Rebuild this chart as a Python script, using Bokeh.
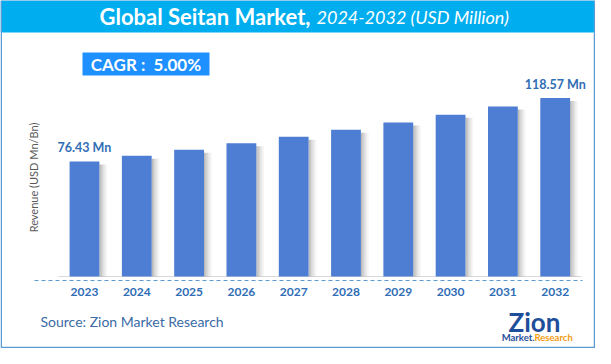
import math
from bokeh.plotting import figure
from bokeh.models import Range1d, ColumnDataSource
from bokeh.core.properties import value
from bokeh.embed import file_html
from bokeh.resources import INLINE

# ---- data ----
years = ["2023", "2024", "2025", "2026", "2027", "2028", "2029", "2030", "2031", "2032"]
revenue = [76.43, 80.25, 84.26, 88.48, 92.90, 97.55, 102.42, 107.55, 112.92, 118.57]
first_label = "76.43 Mn"
last_label = "118.57 Mn"
title_main = "Global Seitan Market,"
title_sub = "2024-2032 (USD Million)"
cagr_text = "CAGR :\u00a0 5.00%"
y_label = "Revenue (USD Mn/Bn)"
source_text = "Source: Zion Market Research"

# ---- layout constants (pixels) ----
W, H = 595, 348
PXX = 52.3            # px per category
X0 = 84.0             # canvas x of first category centre
PYY = 1.5047          # px per unit
BASE = 276.0          # canvas y (from top) of zero line

XS = -X0 / PXX
XE = (W - X0) / PXX
YS = -(H - BASE) / PYY
YE = BASE / PYY

def X(cx):
    return XS + cx / PXX

def Y(cy):
    return (BASE - cy) / PYY

FONT = value("Lato")
BAR = "#4D7ED3"
LBL = "#2F6DB5"

p = figure(width=W, height=H, x_range=Range1d(XS, XE), y_range=Range1d(YS, YE),
           output_backend="svg", toolbar_location=None, min_border=0)
p.axis.visible = False
p.grid.visible = False
p.outline_line_color = None
p.background_fill_color = "white"
p.border_fill_color = "white"

# title bar
p.quad(left=[X(0)], right=[X(594)], top=[Y(0)], bottom=[Y(32)],
       fill_color="#00AEEF", line_color=None)
p.text(x=[X(310)], y=[Y(16)], text=[title_main], text_font=FONT,
       text_font_size="22px", text_font_style="bold", text_color="white",
       text_align="right", text_baseline="middle")
p.text(x=[X(316)], y=[Y(16.5)], text=[title_sub], text_font=FONT,
       text_font_size="18px", text_font_style="italic", text_color="white",
       text_align="left", text_baseline="middle")

# outer frame
p.line(x=[X(0.75), X(0.75), X(594), X(594)], y=[Y(32), Y(347), Y(347), Y(32)],
       line_color="#5B9BD5", line_width=1.5)
p.line(x=[X(0.75), X(0.75)], y=[Y(0), Y(32)], line_color="#5B9BD5", line_width=1.5)
p.line(x=[X(0.75), X(594)], y=[Y(-0.2), Y(-0.2)], line_color="#5B9BD5", line_width=1)
p.line(x=[X(594), X(594)], y=[Y(0), Y(32)], line_color="#5B9BD5", line_width=1.5)

# CAGR box
p.quad(left=[X(82)], right=[X(209)], top=[Y(52)], bottom=[Y(75)],
       fill_color="#1E90FF", line_color=None)
p.text(x=[X(145.5)], y=[Y(63.5)], text=[cagr_text], text_font=FONT,
       text_font_size="17px", text_font_style="bold", text_color="white",
       text_align="center", text_baseline="middle")

# axis lines
p.line(x=[X(58), X(581)], y=[0, 0], line_color="#D9D9D9", line_width=1)
p.line(x=[X(34), X(582)], y=[Y(280), Y(280)], line_color="#5B9BD5",
       line_width=1, line_dash="4 3")

# bar shadows
idx = list(range(len(years)))
bw = 0.57
strip = 1.3 / PXX
for k, a in enumerate([0.55, 0.42, 0.3, 0.2, 0.12, 0.06]):
    p.quad(left=[i + bw / 2 + k * strip for i in idx],
           right=[i + bw / 2 + (k + 1) * strip for i in idx],
           top=[v - 3 / PYY for v in revenue], bottom=[0] * len(idx),
           fill_color="#7F7F7F", fill_alpha=a, line_color=None)

# bars
src = ColumnDataSource(dict(x=idx, top=revenue, year=years))
p.vbar(x="x", top="top", width=bw, source=src, fill_color=BAR, line_color=None)

# year labels
p.text(x="x", y=Y(291), text="year", source=src, text_font=FONT,
       text_font_size="12px", text_font_style="bold", text_color=LBL,
       text_align="center", text_baseline="middle")

# value labels
p.text(x=[idx[0], idx[-1]], y=[revenue[0], revenue[-1]], text=[first_label, last_label],
       text_font=FONT, text_font_size="12.5px", text_font_style="bold",
       text_color=LBL, text_align="center", text_baseline="bottom", y_offset=-6)

# y label
p.text(x=[X(33)], y=[Y(177)], text=[y_label], angle=math.pi / 2, text_font=FONT,
       text_font_size="11px", text_color="#595959", text_align="center",
       text_baseline="middle")

# source
p.text(x=[X(40)], y=[Y(321)], text=[source_text], text_font=FONT,
       text_font_size="14px", text_color="#3A6BA5", text_align="left",
       text_baseline="middle")

# logo
p.text(x=[X(534)], y=[Y(321)], text=["Zion"], text_font=FONT,
       text_font_size="26px", text_font_style="bold", text_color="#1F4E9A",
       text_align="center", text_baseline="middle")
p.text(x=[X(534)], y=[Y(337)], text=["Market."], text_font=FONT,
       text_font_size="9.5px", text_font_style="bold", text_color="#1F4E9A",
       text_align="right", text_baseline="middle")
p.text(x=[X(534)], y=[Y(337)], text=["Research"], text_font=FONT,
       text_font_size="9.5px", text_font_style="bold", text_color="#F39C12",
       text_align="left", text_baseline="middle")

open("out.html", "w").write(file_html(p, INLINE))
